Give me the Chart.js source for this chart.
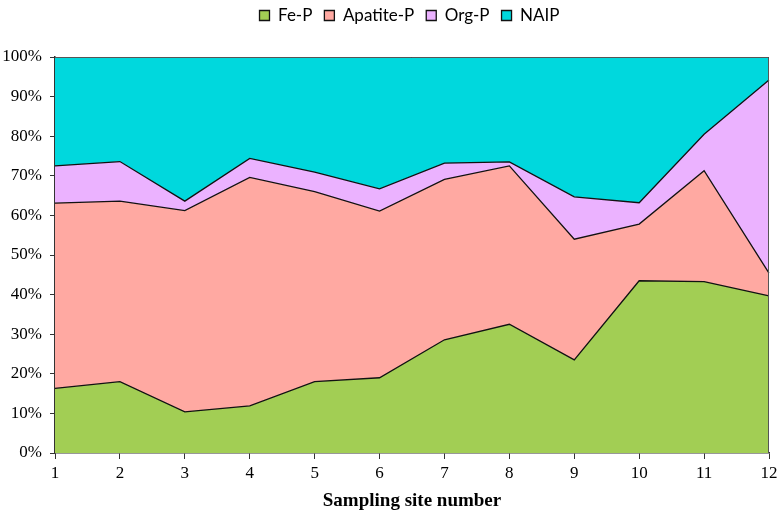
<!DOCTYPE html>
<html>
<head>
<meta charset="utf-8">
<script src="https://cdn.jsdelivr.net/npm/chart.js@4.4.1/dist/chart.umd.min.js"></script>
<style>
  html, body { margin: 0; padding: 0; background: #fff; }
  #wrap { width: 782px; height: 512px; position: relative; }
</style>
</head>
<body>
<div id="wrap"><canvas id="c"></canvas></div>
<script>
// ---- data (percent of total P, per sampling site) ----
const sites   = ['1','2','3','4','5','6','7','8','9','10','11','12'];
const feP      = [16.3, 18.0, 10.4, 11.9, 18.0, 19.0, 28.6, 32.5, 23.5, 43.5, 43.3, 39.7];
const apatiteP = [46.8, 45.6, 50.8, 57.7, 48.0, 42.1, 40.5, 40.0, 30.5, 14.3, 28.0, 5.7];
const orgP     = [9.4, 10.0, 2.4, 4.8, 4.9, 5.6, 4.1, 1.0, 10.7, 5.4, 9.2, 48.8];
const naip     = [27.5, 26.4, 36.4, 25.6, 29.1, 33.3, 26.8, 26.5, 35.3, 36.8, 19.5, 5.8];
const yTicks   = [0, 10, 20, 30, 40, 50, 60, 70, 80, 90, 100];

const serif = "'Liberation Serif', 'DejaVu Serif', serif";
const sans  = "Lato, 'Open Sans', sans-serif";

function area(label, data, color, fill) {
  return {
    label, data, fill,
    backgroundColor: color,
    borderColor: '#111',
    borderWidth: 1.3,
    pointRadius: 0,
    tension: 0,
  };
}

// legend height fixed so the plot starts where the original does,
// legend nudged to sit over the plot like in the original
const fixLayout = {
  id: 'fixLayout',
  beforeInit(chart) {
    const lg = chart.legend;
    const fit = lg.fit;
    lg.fit = function () {
      fit.call(this);
      this.height = 57;
    };
    const draw = lg.draw;
    lg.draw = function () {
      const ctx = this.ctx;
      ctx.save();
      ctx.translate(25, -5);
      draw.call(this);
      ctx.restore();
    };
  },
  afterDraw(chart) {
    const { ctx, chartArea: a } = chart;
    ctx.save();
    ctx.strokeStyle = '#555';
    ctx.lineWidth = 1;
    ctx.beginPath();
    ctx.moveTo(a.left, a.top + 0.5);
    ctx.lineTo(a.right - 0.5, a.top + 0.5);
    ctx.lineTo(a.right - 0.5, a.bottom);
    ctx.stroke();
    ctx.restore();
  },
};

new Chart(document.getElementById('c'), {
  type: 'line',
  data: {
    labels: sites,
    datasets: [
      area('Fe-P', feP, '#A2CE54', 'origin'),
      area('Apatite-P', apatiteP, '#FFA9A2', '-1'),
      area('Org-P', orgP, '#EBB2FF', '-1'),
      area('NAIP', naip, '#00D8DD', '-1'),
    ],
  },
  options: {
    responsive: true,
    maintainAspectRatio: false,
    animation: false,
    layout: { padding: { left: 0, right: 13, top: 0, bottom: 0 } },
    plugins: {
      legend: {
        position: 'top',
        labels: {
          color: '#000',
          font: { family: sans, size: 17 },
          boxWidth: 10,
          boxHeight: 10,
          padding: 12,
        },
      },
      tooltip: { enabled: false },
    },
    scales: {
      x: {
        offset: false,
        grid: { display: true, drawOnChartArea: false, drawTicks: true, tickLength: 6, color: '#333' },
        border: { color: '#333', width: 1.5 },
        ticks: { color: '#000', font: { family: serif, size: 17 }, padding: 4, maxRotation: 0 },
        title: {
          display: true,
          text: 'Sampling site number',
          color: '#000',
          font: { family: serif, size: 19, weight: 'bold' },
          padding: { top: 9, bottom: 0 },
        },
        afterFit(scale) { scale.height = 59; },
      },
      y: {
        stacked: true,
        min: 0,
        max: 100,
        afterBuildTicks(scale) { scale.ticks = yTicks.map(v => ({ value: v })); },
        grid: { display: true, drawOnChartArea: false, drawTicks: true, tickLength: 5, color: '#333' },
        border: { color: '#333', width: 1.5 },
        ticks: {
          color: '#000',
          font: { family: serif, size: 17 },
          padding: 8,
          callback: (v) => v + '%',
        },
        afterFit(scale) { scale.width = 55; },
      },
    },
  },
  plugins: [fixLayout],
});
</script>
</body>
</html>
